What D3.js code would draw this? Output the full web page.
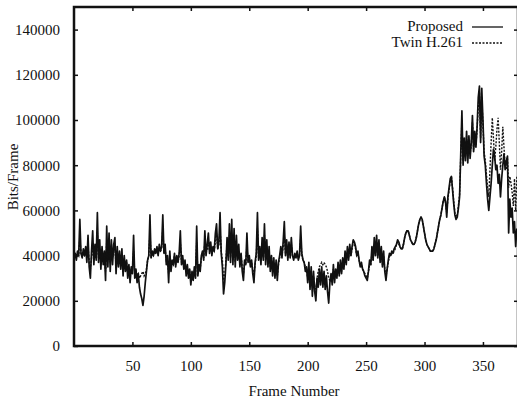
<!DOCTYPE html>
<html>
<head>
<meta charset="utf-8">
<script src="https://cdn.jsdelivr.net/npm/d3@7"></script>
<style>
    body { margin: 0; background: #fff; }
    text { font-family: "Liberation Serif", "DejaVu Serif", serif; fill: #111; }
</style>
</head>
<body>
<svg id="chart" width="517" height="405"></svg>
<script>
// bits per frame, in thousands, one value per frame starting at frame 0
const proposed = [
    39,41,38,42,40,56,41,39,43,40,
    44,37,49,35,30,42,51,36,45,38,
    59,37,47,34,44,36,42,29,53,35,
    50,33,47,36,45,48,32,44,35,42,
    34,43,31,40,33,38,30,36,28,35,
    32,49,30,34,28,32,26,23,21,18,
    22,28,33,38,40,58,39,42,40,43,
    41,44,40,45,42,44,58,41,45,36,
    40,28,42,33,38,36,41,35,40,37,
    41,51,36,40,34,38,31,36,30,34,
    27,33,29,35,30,53,31,36,33,40,
    42,38,51,40,45,50,41,46,40,44,
    42,50,54,43,46,59,41,35,23,28,
    36,48,38,54,37,56,36,52,35,49,
    38,45,35,41,33,29,38,36,50,37,
    40,35,38,32,28,37,41,59,38,44,
    36,48,38,54,36,47,35,44,33,40,
    31,39,30,38,29,37,40,44,39,46,
    55,40,47,38,46,39,48,40,38,41,
    39,42,38,40,53,41,38,37,33,35,
    28,37,25,35,22,33,24,20,30,26,
    34,27,35,26,33,25,31,24,19,28,
    32,27,36,28,34,30,37,31,38,32,
    39,34,42,36,44,38,45,40,44,47,
    46,44,40,42,38,35,37,34,33,31,
    30,29,33,38,36,44,38,48,40,49,
    39,47,37,44,35,42,33,29,34,38,
    41,40,42,41,43,44,45,47,46,44,
    43,43,45,48,50,51,51,49,47,46,
    45,45,46,48,51,54,56,57,56,53,
    50,47,45,44,43,42,42,42,43,45,
    47,50,53,56,58,61,64,66,64,57,
    66,70,74,75,69,63,58,56,57,61,
    66,85,104,80,92,82,95,81,93,83,
    90,102,86,95,88,97,110,115,90,114,
    100,84,80,72,65,60,66,72,80,87,
    84,78,80,72,76,66,74,80,85,78,
    82,84,50,65,57,61,50,55,44,52
]

const twinH261 = [
    39,40,39,41,40,48,41,40,41,40,
    41,39,44,37,34,39,45,38,41,39,
    50,39,43,37,41,38,40,33,46,38,
    44,37,43,39,42,43,36,41,38,40,
    37,40,35,38,35,37,33,35,31,34,
    34,42,32,33,31,32,30,31,32,33,
    31,32,34,38,40,50,40,41,40,42,
    41,42,41,43,42,43,52,41,43,38,
    39,32,40,35,37,36,40,36,39,37,
    40,46,37,39,35,37,33,35,32,33,
    30,32,31,33,31,46,32,35,34,39,
    41,39,46,41,43,46,42,44,41,43,
    42,46,50,43,45,52,42,38,29,31,
    38,45,40,49,39,50,38,47,37,45,
    38,42,36,40,35,32,37,36,45,37,
    39,36,37,34,31,36,40,52,39,42,
    38,45,39,49,38,44,37,42,35,39,
    33,37,32,37,31,36,39,42,40,44,
    49,41,45,39,44,40,45,40,39,40,
    39,41,39,40,48,40,38,37,35,34,
    30,34,28,33,26,31,27,25,30,33,
    35,36,37,36,37,36,35,33,30,29,
    31,29,34,30,33,31,35,32,36,33,
    37,35,40,37,42,39,43,40,43,46,
    45,43,40,41,38,36,36,34,33,32,
    31,30,33,36,36,41,38,45,40,46,
    40,45,38,42,36,40,34,31,34,37,
    40,40,41,41,42,43,45,46,45,44,
    43,43,45,48,50,51,51,49,47,46,
    45,45,46,48,51,54,56,57,56,53,
    50,47,45,44,43,42,42,42,43,45,
    47,50,53,56,58,61,64,66,63,59,
    65,69,73,75,70,64,59,57,58,62,
    67,84,100,82,90,84,93,83,91,85,
    89,99,87,94,89,96,106,112,92,110,
    98,86,82,76,70,66,78,90,101,92,
    82,88,96,101,90,78,86,97,88,80,
    78,83,70,75,72,68,62,74,60,75
]

const xTicks = [50, 100, 150, 200, 250, 300, 350]
const yTicks = [0, 20000, 40000, 60000, 80000, 100000, 120000, 140000]
const seriesNames = ["Proposed", "Twin H.261"]

const PLOT = {left: 74, right: 518, top: 7, bottom: 346};
const TICK = 4

let svg = d3.select("#chart")

let x = d3.scaleLinear()
    .domain([0, 380])
    .range([PLOT.left, PLOT.right])

let y = d3.scaleLinear()
    .domain([0, 150000])
    .range([PLOT.bottom, PLOT.top])

// clip the traces to the frame
svg.append("clipPath").attr("id", "plot-clip")
    .append("rect")
    .attr("x", PLOT.left).attr("y", PLOT.top)
    .attr("width", PLOT.right - PLOT.left)
    .attr("height", PLOT.bottom - PLOT.top)

let line = d3.line()
    .x((d, i) => x(i))
    .y(d => y(d * 1000))

let traces = svg.append("g").attr("clip-path", "url(#plot-clip)")

traces.append("path")
    .datum(proposed)
    .attr("fill", "none")
    .attr("stroke", "#111")
    .attr("stroke-width", 1.7)
    .attr("stroke-linejoin", "round")
    .attr("d", line)

traces.append("path")
    .datum(twinH261)
    .attr("fill", "none")
    .attr("stroke", "#111")
    .attr("stroke-width", 1.4)
    .attr("stroke-dasharray", "2,1.5")
    .attr("d", line)

// axes: ticks point inward on all four sides
let axisStyle = g => {
    g.select(".domain").remove()
    g.selectAll(".tick line").attr("stroke", "#111").attr("stroke-width", 1.5)
    g.selectAll(".tick text")
        .attr("fill", "#111")
        .style("font-family", "'Liberation Serif', serif")
        .style("font-size", "15px")
}

svg.append("g")
    .attr("transform", `translate(0,${PLOT.bottom})`)
    .call(d3.axisBottom(x).tickValues(xTicks).tickSizeInner(-TICK).tickSizeOuter(0).tickPadding(14))
    .call(axisStyle)

svg.append("g")
    .attr("transform", `translate(0,${PLOT.top})`)
    .call(d3.axisTop(x).tickValues(xTicks).tickSizeInner(-TICK).tickSizeOuter(0).tickFormat(""))
    .call(axisStyle)

svg.append("g")
    .attr("transform", `translate(${PLOT.left},0)`)
    .call(d3.axisLeft(y).tickValues(yTicks).tickSizeInner(-TICK).tickSizeOuter(0).tickPadding(14).tickFormat(d3.format("d")))
    .call(axisStyle)

svg.append("g")
    .attr("transform", `translate(${PLOT.right},0)`)
    .call(d3.axisRight(y).tickValues(yTicks).tickSizeInner(-TICK).tickSizeOuter(0).tickFormat(""))
    .call(axisStyle)

// frame
svg.append("rect")
    .attr("x", PLOT.left).attr("y", PLOT.top)
    .attr("width", PLOT.right - PLOT.left)
    .attr("height", PLOT.bottom - PLOT.top)
    .attr("fill", "none")
    .attr("stroke", "#111")
    .attr("stroke-width", 2.5)

// axis titles
svg.append("text")
    .attr("x", 294).attr("y", 396)
    .attr("text-anchor", "middle")
    .style("font-size", "15px")
    .text("Frame Number")

svg.append("text")
    .attr("transform", "translate(18,177) rotate(-90)")
    .attr("text-anchor", "middle")
    .style("font-size", "15px")
    .text("Bits/Frame")

// legend
let legend = svg.append("g")
seriesNames.forEach((name, i) => {
    let ly = 27 + i * 16
    legend.append("text")
        .attr("x", 463).attr("y", ly + 4)
        .attr("text-anchor", "end")
        .style("font-size", "15px")
        .text(name)
    legend.append("line")
        .attr("x1", 472).attr("x2", 503)
        .attr("y1", ly).attr("y2", ly)
        .attr("stroke", "#111")
        .attr("stroke-width", 1.3)
        .attr("stroke-dasharray", i == 1 ? "2,1.5" : null)
})
</script>
</body>
</html>
